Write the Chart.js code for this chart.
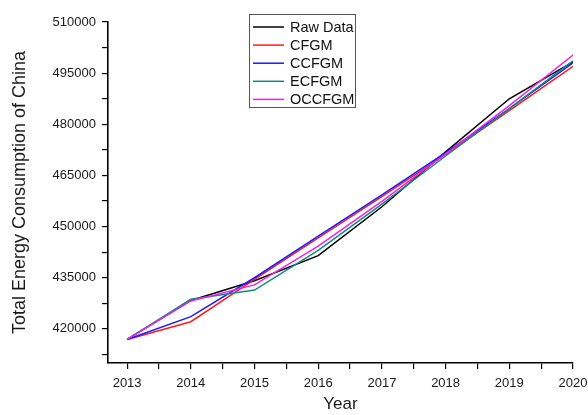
<!DOCTYPE html>
<html>
<head>
<meta charset="utf-8">
<script src="https://cdn.jsdelivr.net/npm/chart.js@4/dist/chart.umd.min.js"></script>
<style>
  html, body { margin: 0; padding: 0; background: #ffffff; }
  #wrap { width: 588px; height: 415px; position: relative; }
</style>
</head>
<body>
<div id="wrap"><canvas id="chart" width="588" height="415"></canvas></div>
<script>
// Years on the horizontal axis
const years = [2013, 2014, 2015, 2016, 2017, 2018, 2019, 2020];

// Total energy consumption (10^4 tce): observed values and model fits
const rawData = [416913, 428334, 434113, 441492, 455827, 471925, 487488, 498314];
const cfgm    = [416913, 422100, 434500, 446700, 458800, 471200, 484000, 497000];
const ccfgm   = [416913, 423600, 435000, 447200, 459300, 471700, 484600, 498000];
const ecfgm   = [416913, 428700, 431400, 443000, 456600, 470700, 484600, 498600];
const occfgm  = [416913, 428200, 432900, 444300, 457400, 471300, 485500, 500300];

const seriesNames = ['Raw Data', 'CFGM', 'CCFGM', 'ECFGM', 'OCCFGM'];

// Axis ticks: labelled majors plus unlabelled minors
const yMajorTicks = [420000, 435000, 450000, 465000, 480000, 495000, 510000];
const yMinorTicks = [412500, 427500, 442500, 457500, 472500, 487500, 502500];
const xMinorTicks = [2013.5, 2014.5, 2015.5, 2016.5, 2017.5, 2018.5, 2019.5];

const FONT = "'Liberation Sans', Arial, Helvetica, sans-serif";

function toPoints(values) {
  return years.map((yr, i) => ({ x: yr, y: values[i] }));
}

const colors = ['#000000', '#ff1a1a', '#1a1aff', '#0f8c82', '#f020f0'];
const seriesValues = [rawData, cfgm, ccfgm, ecfgm, occfgm];

const datasets = seriesValues.map((vals, i) => ({
  label: seriesNames[i],
  data: toPoints(vals),
  borderColor: colors[i],
  backgroundColor: colors[i],
  borderWidth: 1.5,
  pointRadius: 0,
  tension: 0,
  fill: false,
  order: seriesValues.length - 1 - i
}));

// Boxed legend drawn inside the plot, near the top
const innerLegend = {
  id: 'innerLegend',
  afterDatasetsDraw(chart) {
    const ctx = chart.ctx;
    const box = { x: 249.5, y: 14.5, w: 106, h: 93 };
    ctx.save();
    ctx.fillStyle = '#ffffff';
    ctx.fillRect(box.x, box.y, box.w, box.h);
    ctx.strokeStyle = '#555555';
    ctx.lineWidth = 1;
    ctx.strokeRect(box.x, box.y, box.w, box.h);
    ctx.font = '14.5px ' + FONT;
    ctx.textBaseline = 'middle';
    ctx.textAlign = 'left';
    chart.data.datasets.forEach((ds, i) => {
      const y = 27 + i * 18.1;
      ctx.strokeStyle = ds.borderColor;
      ctx.lineWidth = 1.5;
      ctx.beginPath();
      ctx.moveTo(253, y);
      ctx.lineTo(284, y);
      ctx.stroke();
      ctx.fillStyle = '#111111';
      ctx.fillText(ds.label, 290, y + 1);
    });
    ctx.restore();
  }
};

new Chart(document.getElementById('chart'), {
  type: 'line',
  data: { datasets },
  plugins: [innerLegend],
  options: {
    responsive: false,
    animation: false,
    devicePixelRatio: 1,
    layout: { padding: { top: 22, right: 15, bottom: 0, left: 0 } },
    plugins: {
      legend: { display: false },
      tooltip: { enabled: false }
    },
    scales: {
      x: {
        type: 'linear',
        min: 2012.7,
        max: 2020,
        afterBuildTicks(scale) {
          scale.ticks = years.concat(xMinorTicks).sort((a, b) => a - b).map(v => ({ value: v }));
        },
        afterFit(scale) {
          scale.height = 52;
          scale.paddingLeft = 0;
          scale.paddingRight = 0;
        },
        ticks: {
          autoSkip: false,
          maxRotation: 0,
          padding: 7,
          color: '#1a1a1a',
          font: { family: FONT, size: 13 },
          callback: (v) => (years.includes(v) ? String(v) : '')
        },
        grid: {
          drawOnChartArea: false,
          drawTicks: true,
          tickLength: 6,
          color: '#000000',
          lineWidth: 1.2
        },
        border: { display: true, color: '#000000', width: 1.6 },
        title: {
          display: true,
          text: 'Year',
          color: '#1a1a1a',
          font: { family: FONT, size: 17 },
          padding: { top: 0, bottom: 0 }
        }
      },
      y: {
        type: 'linear',
        min: 410000,
        max: 510000,
        afterBuildTicks(scale) {
          scale.ticks = yMajorTicks.concat(yMinorTicks).sort((a, b) => a - b).map(v => ({ value: v }));
        },
        afterFit(scale) { scale.width = 108; },
        ticks: {
          autoSkip: false,
          padding: 6,
          color: '#1a1a1a',
          font: { family: FONT, size: 13 },
          callback: (v) => (yMajorTicks.includes(v) ? String(v) : '')
        },
        grid: {
          drawOnChartArea: false,
          drawTicks: true,
          tickLength: 6,
          color: '#000000',
          lineWidth: 1.2
        },
        border: { display: true, color: '#000000', width: 1.6 },
        title: {
          display: true,
          text: 'Total Energy Consumption of China',
          color: '#1a1a1a',
          font: { family: FONT, size: 18 },
          padding: { top: 9, bottom: 0 }
        }
      }
    }
  }
});
</script>
</body>
</html>
